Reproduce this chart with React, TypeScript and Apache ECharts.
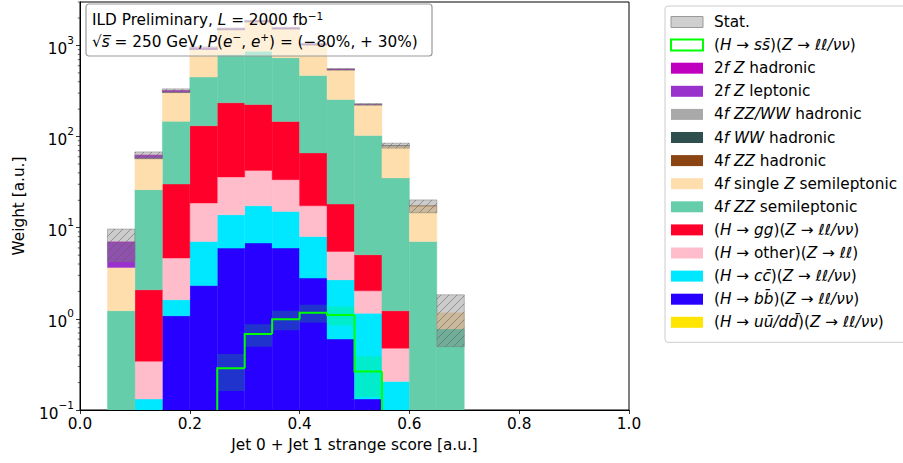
import React, { useEffect, useRef } from 'react';
import * as echarts from 'echarts';

// ---------- data ----------
const binLow = [0.05, 0.10, 0.15, 0.20, 0.25, 0.30, 0.35, 0.40, 0.45, 0.50, 0.55, 0.60, 0.65];
const binHigh = [0.10, 0.15, 0.20, 0.25, 0.30, 0.35, 0.40, 0.45, 0.50, 0.55, 0.60, 0.65, 0.70];

// stacked backgrounds (bottom -> top)
const uuValues = [0, 0.002, 0.02, 0.04, 0.08, 0.09, 0.08, 0.04, 0.01, 0.002, 0.001, 0, 0];
const bbValues = [0.01, 0.03, 1.06, 2.28, 5.9, 6.7, 5.9, 2.76, 0.59, 0.13, 0.05, 0.005, 0];
const ccValues = [0.01, 0.10, 0.54, 4.75, 7.9, 10.6, 9.1, 5.2, 2.08, 1.02, 0.155, 0.01, 0];
const otherValues = [0.01, 0.21, 3.03, 11.6, 22.2, 25.2, 18.6, 9.4, 2.81, 0.88, 0.27, 0.01, 0];
const ggValues = [0.02, 1.74, 25.5, 113, 199, 182, 113, 48.8, 12.7, 3.02, 0.75, 0.02, 0];
const zzSemilepValues = [1.18, 24.1, 117, 319, 561, 641, 586, 402, 237, 98, 34.0, 7.02, 0.776];
const singleZSemilepValues = [2.43, 32.1, 161, 453, 704, 970, 805, 558, 290, 122, 44.4, 10.3, 0.39];
const zzHadValues = [0, 0.05, 0.3, 0.8, 1.2, 1.5, 1.2, 0.8, 0.4, 0.15, 0.05, 0.02, 0];
const wwHadValues = [0, 0.02, 0.1, 0.3, 0.5, 0.6, 0.5, 0.3, 0.15, 0.05, 0.02, 0, 0];
const zzwwHadValues = [0, 0.02, 0.1, 0.3, 0.5, 0.6, 0.5, 0.3, 0.15, 0.05, 0.02, 0, 0];
const twoFLepValues = [3.29, 4.0, 10, 30, 15, 8, 3, 1, 0.3, 0.1, 0, 0, 0];
const twoFHadValues = [0.02, 0.1, 0.3, 0.5, 0.3, 0.2, 0.1, 0.05, 0.02, 0, 0, 0, 0];

// statistical uncertainty on the total
const statErr = [2.7, 5.4, 15, 30, 40, 45, 40, 25, 12, 5, 5, 2.8, 0.67];

// signal (H -> s sbar)
const ssValues = [0.001, 0.005, 0.02, 0.06, 0.287, 0.684, 0.99, 1.17, 1.105, 0.264, 0.04, 0.002, 0];
const ssErr = [0, 0.003, 0.01, 0.03, 0.125, 0.19, 0.24, 0.26, 0.26, 0.125, 0.03, 0.002, 0];

// axis ticks
const xTickStep = 0.2;
const yMinorTicks = [0.2, 0.3, 0.4, 0.5, 0.6, 0.7, 0.8, 0.9, 2, 3, 4, 5, 6, 7, 8, 9,
  20, 30, 40, 50, 60, 70, 80, 90, 200, 300, 400, 500, 600, 700, 800, 900, 2000, 3000];

// names
const N_STAT = 'Stat.';
const N_SS = '(H → ss̄)(Z → ℓℓ/νν)';
const N_2FH = '2f Z hadronic';
const N_2FL = '2f Z leptonic';
const N_ZZWWH = '4f ZZ/WW hadronic';
const N_WWH = '4f WW hadronic';
const N_ZZH = '4f ZZ hadronic';
const N_SZSL = '4f single Z semileptonic';
const N_ZZSL = '4f ZZ semileptonic';
const N_GG = '(H → gg)(Z → ℓℓ/νν)';
const N_OTHER = '(H → other)(Z → ℓℓ)';
const N_CC = '(H → cc̄)(Z → ℓℓ/νν)';
const N_BB = '(H → bb̄)(Z → ℓℓ/νν)';
const N_UU = '(H → uū/dd̄)(Z → ℓℓ/νν)';

const FONT = 'DejaVu Sans';
const FS = 15.3;
const FSUP = 10.5;
const YMIN = 0.1;
const YMAX = 3000;

const layers = [
  { name: N_UU, values: uuValues, color: '#ffe500' },
  { name: N_BB, values: bbValues, color: '#2800ff' },
  { name: N_CC, values: ccValues, color: '#00e8ff' },
  { name: N_OTHER, values: otherValues, color: '#ffbccb' },
  { name: N_GG, values: ggValues, color: '#ff002b' },
  { name: N_ZZSL, values: zzSemilepValues, color: '#66cdaa' },
  { name: N_SZSL, values: singleZSemilepValues, color: '#ffdead' },
  { name: N_ZZH, values: zzHadValues, color: '#8b4513' },
  { name: N_WWH, values: wwHadValues, color: '#2f4f4f' },
  { name: N_ZZWWH, values: zzwwHadValues, color: '#a9a9a9' },
  { name: N_2FL, values: twoFLepValues, color: '#9932cc' },
  { name: N_2FH, values: twoFHadValues, color: '#bf00bf' },
];

const legendLabels: Record<string, string> = {
  [N_STAT]: '{n|Stat.}',
  [N_SS]: '{n|(}{i|H}{n| → }{i|ss̄}{n|)(}{i|Z}{n| → }{i|ℓℓ/νν}{n|)}',
  [N_2FH]: '{n|2}{i|f}{n| }{i|Z}{n| hadronic}',
  [N_2FL]: '{n|2}{i|f}{n| }{i|Z}{n| leptonic}',
  [N_ZZWWH]: '{n|4}{i|f}{n| }{i|ZZ/WW}{n| hadronic}',
  [N_WWH]: '{n|4}{i|f}{n| }{i|WW}{n| hadronic}',
  [N_ZZH]: '{n|4}{i|f}{n| }{i|ZZ}{n| hadronic}',
  [N_SZSL]: '{n|4}{i|f}{n| single }{i|Z}{n| semileptonic}',
  [N_ZZSL]: '{n|4}{i|f}{n| }{i|ZZ}{n| semileptonic}',
  [N_GG]: '{n|(}{i|H}{n| → }{i|gg}{n|)(}{i|Z}{n| → }{i|ℓℓ/νν}{n|)}',
  [N_OTHER]: '{n|(}{i|H}{n| → other)(}{i|Z}{n| → }{i|ℓℓ}{n|)}',
  [N_CC]: '{n|(}{i|H}{n| → }{i|cc̄}{n|)(}{i|Z}{n| → }{i|ℓℓ/νν}{n|)}',
  [N_BB]: '{n|(}{i|H}{n| → }{i|bb̄}{n|)(}{i|Z}{n| → }{i|ℓℓ/νν}{n|)}',
  [N_UU]: '{n|(}{i|H}{n| → }{i|uū/dd̄}{n|)(}{i|Z}{n| → }{i|ℓℓ/νν}{n|)}',
};

const empty = () => ({ type: 'group', children: [] });

function hatchLines(x0: number, x1: number, yT: number, yB: number, s: number, stroke: string) {
  const out: any[] = [];
  const cStart = Math.ceil((x0 + yT) / s) * s;
  for (let c = cStart; c <= x1 + yB; c += s) {
    const xa = Math.max(x0, c - yB);
    const xb = Math.min(x1, c - yT);
    if (xb - xa > 0.3) {
      out.push({
        type: 'line',
        shape: { x1: xa, y1: c - xa, x2: xb, y2: c - xb },
        style: { stroke, lineWidth: 0.8 },
      });
    }
  }
  return out;
}

export default function App() {
  const ref = useRef<HTMLDivElement>(null);

  useEffect(() => {
    const chart = echarts.init(ref.current!, null, { renderer: 'svg' });

    // cumulative stacking
    const nb = binLow.length;
    let cum = new Array(nb).fill(0);
    const layerSeries = layers.map((layer) => {
      const bottoms = cum.slice();
      const tops = cum.map((c, i) => c + layer.values[i]);
      cum = tops;
      const color = layer.color;
      return {
        type: 'custom',
        name: layer.name,
        clip: true,
        silent: true,
        z: 2,
        itemStyle: { color },
        encode: { x: 0, y: 3 },
        data: binLow.map((lo, i) => [lo, binHigh[i], Math.max(bottoms[i], 1e-6), Math.max(tops[i], 1e-6)]),
        renderItem: (_p: any, api: any) => {
          const lo = api.value(0), hi = api.value(1), b = api.value(2), t = api.value(3);
          if (t <= YMIN || t - b <= 1e-9) return empty();
          const p0 = api.coord([lo, Math.max(b, YMIN)]);
          const p1 = api.coord([hi, t]);
          return {
            type: 'rect',
            shape: { x: p0[0], y: p1[1], width: p1[0] - p0[0], height: p0[1] - p1[1] },
            style: { fill: color, stroke: color, lineWidth: 0.4 },
          };
        },
      };
    });
    const totals = cum;

    const statSeries = {
      type: 'custom',
      name: N_STAT,
      clip: true,
      silent: true,
      z: 3,
      itemStyle: { color: '#cccccc' },
      encode: { x: 0, y: 2 },
      data: binLow.map((lo, i) => [lo, binHigh[i], Math.max(totals[i], 1e-6), statErr[i]]),
      renderItem: (_p: any, api: any) => {
        const lo = api.value(0), hi = api.value(1), t = api.value(2), e = api.value(3);
        const up = t + e, dn = Math.max(t - e, YMIN);
        if (up <= YMIN) return empty();
        const p0 = api.coord([lo, dn]);
        const p1 = api.coord([hi, up]);
        const x0 = p0[0], x1 = p1[0], yT = p1[1], yB = p0[1];
        return {
          type: 'group',
          children: [
            {
              type: 'rect',
              shape: { x: x0, y: yT, width: x1 - x0, height: yB - yT },
              style: { fill: 'rgba(128,128,128,0.4)', stroke: 'rgba(120,120,120,0.6)', lineWidth: 0.8 },
            },
            ...hatchLines(x0, x1, yT, yB, 8, 'rgba(95,95,95,0.7)'),
          ],
        };
      },
    };

    const ssStatSeries = {
      type: 'custom',
      name: 'ssStat',
      clip: true,
      silent: true,
      z: 3,
      encode: { x: 0, y: 2 },
      data: binLow.map((lo, i) => [lo, binHigh[i], Math.max(ssValues[i], 1e-6), ssErr[i]]),
      renderItem: (_p: any, api: any) => {
        const lo = api.value(0), hi = api.value(1), t = api.value(2), e = api.value(3);
        const up = t + e, dn = Math.max(t - e, YMIN);
        if (up <= YMIN || e <= 0) return empty();
        const p0 = api.coord([lo, dn]);
        const p1 = api.coord([hi, up]);
        return {
          type: 'rect',
          shape: { x: p0[0], y: p1[1], width: p1[0] - p0[0], height: p0[1] - p1[1] },
          style: { fill: 'rgba(0,255,0,0.2)' },
        };
      },
    };

    const FLOOR = 0.01;
    const ssLineSeries = {
      type: 'custom',
      name: N_SS,
      clip: true,
      silent: true,
      z: 4,
      itemStyle: { color: '#00ff00' },
      encode: { x: 0, y: 2 },
      data: binLow.map((lo, i) => [
        lo, binHigh[i], Math.max(ssValues[i], FLOOR),
        i === 0 ? FLOOR : Math.max(ssValues[i - 1], FLOOR),
        i === nb - 1 ? 1 : 0,
      ]),
      renderItem: (_p: any, api: any) => {
        const lo = api.value(0), hi = api.value(1), v = api.value(2), prev = api.value(3), last = api.value(4);
        const pts = [api.coord([lo, prev]), api.coord([lo, v]), api.coord([hi, v])];
        if (last) pts.push(api.coord([hi, FLOOR]));
        return {
          type: 'polyline',
          shape: { points: pts },
          style: { stroke: '#00ff00', lineWidth: 2, fill: 'none' },
        };
      },
    };

    const minorTickSeries = {
      type: 'custom',
      name: 'minorTicks',
      clip: false,
      silent: true,
      encode: { y: 0 },
      data: yMinorTicks.map((v) => [v]),
      renderItem: (_p: any, api: any) => {
        const p = api.coord([0, api.value(0)]);
        return {
          type: 'line',
          shape: { x1: p[0] - 2.2, y1: p[1], x2: p[0], y2: p[1] },
          style: { stroke: '#000', lineWidth: 0.6 },
        };
      },
    };

    const legendOrder = [N_STAT, N_SS, N_2FH, N_2FL, N_ZZWWH, N_WWH, N_ZZH, N_SZSL, N_ZZSL, N_GG, N_OTHER, N_CC, N_BB, N_UU];
    const layerColor: Record<string, string> = {};
    layers.forEach((l) => (layerColor[l.name] = l.color));
    const legendData = legendOrder.map((name) => {
      if (name === N_STAT) return { name, itemStyle: { color: '#cfcfcf', borderColor: '#9a9a9a', borderWidth: 1 } };
      if (name === N_SS) return { name, itemStyle: { color: '#ffffff', borderColor: '#00ff00', borderWidth: 2 } };
      return { name, itemStyle: { color: layerColor[name], borderWidth: 0 } };
    });

    const txtRich = {
      n: { fontFamily: FONT, fontSize: FS, lineHeight: 20, color: '#000' },
      i: { fontFamily: FONT, fontSize: FS, lineHeight: 20, color: '#000', fontStyle: 'italic' },
      s: { fontFamily: FONT, fontSize: FSUP, lineHeight: 20, color: '#000', verticalAlign: 'top' },
    };

    const option: any = {
      animation: false,
      backgroundColor: '#ffffff',
      textStyle: { fontFamily: FONT },
      grid: {
        left: 80, right: 274, top: 2, bottom: 53,
        show: true, borderColor: '#000', borderWidth: 1, backgroundColor: 'transparent',
        containLabel: false,
      },
      xAxis: {
        type: 'value', min: 0, max: 1, interval: xTickStep,
        name: 'Jet 0 + Jet 1 strange score [a.u.]',
        nameLocation: 'middle', nameGap: 27,
        nameTextStyle: { fontFamily: FONT, fontSize: FS, color: '#000' },
        axisLine: { show: true, lineStyle: { color: '#000', width: 1 } },
        axisTick: { show: true, length: 4, lineStyle: { color: '#000', width: 0.8 } },
        axisLabel: { fontFamily: FONT, fontSize: FS, color: '#000', margin: 6, formatter: (v: number) => v.toFixed(1) },
        splitLine: { show: false },
      },
      yAxis: {
        type: 'log', logBase: 10, min: YMIN, max: YMAX,
        name: 'Weight [a.u.]',
        nameLocation: 'middle', nameGap: 54,
        nameTextStyle: { fontFamily: FONT, fontSize: FS, color: '#000' },
        axisLine: { show: true, lineStyle: { color: '#000', width: 1 } },
        axisTick: { show: true, length: 4, lineStyle: { color: '#000', width: 0.8 } },
        axisLabel: {
          margin: 6, showMaxLabel: false,
          formatter: (v: number) => {
            const e = Math.round(Math.log10(v));
            return `{b|10}{s|${e < 0 ? '−' + -e : e}}`;
          },
          rich: {
            b: { fontFamily: FONT, fontSize: FS, color: '#000', lineHeight: 22, verticalAlign: 'bottom' },
            s: { fontFamily: FONT, fontSize: FSUP, color: '#000', lineHeight: 22, verticalAlign: 'top' },
          },
        },
        splitLine: { show: false },
        minorTick: { show: false },
      },
      legend: {
        orient: 'vertical', left: 665, top: 6,
        padding: [8, 30, 12, 5],
        itemWidth: 32, itemHeight: 11, itemGap: 7.1,
        icon: 'rect',
        selectedMode: false,
        backgroundColor: 'rgba(255,255,255,0.85)',
        borderColor: '#cccccc', borderWidth: 1, borderRadius: 3,
        data: legendData,
        formatter: (name: string) => legendLabels[name] || name,
        textStyle: {
          fontFamily: FONT, fontSize: FS, color: '#000', lineHeight: 16, padding: [0, 0, 0, 6],
          rich: {
            n: { fontFamily: FONT, fontSize: FS, color: '#000', lineHeight: 16 },
            i: { fontFamily: FONT, fontSize: FS, color: '#000', lineHeight: 16, fontStyle: 'italic' },
          },
        },
      },
      graphic: [
        {
          type: 'rect', x: 86, y: 4, z: 100, zlevel: 0, silent: true,
          shape: { x: 0, y: 0, width: 346, height: 52, r: 3 },
          style: { fill: 'rgba(255,255,255,0.55)', stroke: '#9a9a9a', lineWidth: 1.2 },
        },
        {
          type: 'text', x: 92, y: 20, z: 101, silent: true,
          style: {
            text: '{n|ILD Preliminary, }{i|L}{n| = 2000 fb}{s|−1}',
            rich: txtRich, verticalAlign: 'middle', fill: '#000', fontFamily: FONT, fontSize: FS,
          },
        },
        {
          type: 'text', x: 92, y: 41.5, z: 101, silent: true,
          style: {
            text: '{n|√}{i|s̅}{n| = 250 GeV, }{i|P}{n|(}{i|e}{s|−}{n|, }{i|e}{s|+}{n|) = (−80%, + 30%)}',
            rich: txtRich, verticalAlign: 'middle', fill: '#000', fontFamily: FONT, fontSize: FS,
          },
        },
      ],
      series: [...layerSeries, statSeries, ssStatSeries, ssLineSeries, minorTickSeries],
    };

    chart.setOption(option);
    return () => chart.dispose();
  }, []);

  return <div ref={ref} style={{ position: 'absolute', left: 0, top: 0, width: 903, height: 463 }} />;
}
